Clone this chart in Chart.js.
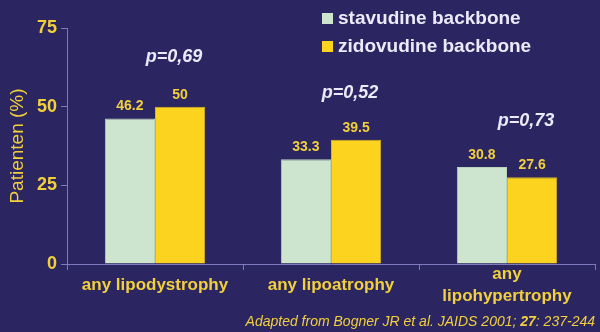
<!DOCTYPE html>
<html>
<head>
<meta charset="utf-8">
<script src="https://cdn.jsdelivr.net/npm/chart.js@4"></script>
<style>
    html, body { margin: 0; padding: 0; background: #2b2561; }
    #wrap { width: 600px; height: 332px; }
</style>
</head>
<body>
<div id="wrap"><canvas id="barChart" width="600" height="332"></canvas></div>
<script>
// chart data
var categories = ['any lipodystrophy', 'any lipoatrophy', ['any', 'lipohypertrophy']];
var stavudineValues = [46.2, 33.3, 30.8];
var zidovudineValues = [50, 39.5, 27.6];
var pValues = ['p=0,69', 'p=0,52', 'p=0,73'];
var pValueLevels = [65.8, 54.3, 45.4];
var yTicks = [0, 25, 50, 75];

var bgColor = '#2b2561';
var yellowText = '#f2d03c';
var whiteText = '#eceaf8';
var axisColor = '#7d7bbd';
var fontFamily = '"Liberation Sans", Arial, sans-serif';

// background, value labels, p values, legend and source line
var decorations = {
    id: 'decorations',
    beforeDraw: function (chart) {
        var ctx = chart.ctx;
        ctx.save();
        ctx.fillStyle = bgColor;
        ctx.fillRect(0, 0, chart.width, chart.height);
        ctx.restore();
    },
    afterDatasetsDraw: function (chart) {
        var ctx = chart.ctx;
        var yScale = chart.scales.y;
        ctx.save();

        // values above bars
        ctx.font = 'bold 14px ' + fontFamily;
        ctx.fillStyle = yellowText;
        ctx.textAlign = 'center';
        ctx.textBaseline = 'bottom';
        chart.data.datasets.forEach(function (ds, i) {
            chart.getDatasetMeta(i).data.forEach(function (bar, j) {
                ctx.fillText(String(ds.data[j]), bar.x, bar.y - 5);
            });
        });

        // p values
        ctx.font = 'italic bold 18px ' + fontFamily;
        ctx.fillStyle = whiteText;
        ctx.textBaseline = 'middle';
        var zidoMeta = chart.getDatasetMeta(1);
        pValues.forEach(function (p, j) {
            ctx.fillText(p, zidoMeta.data[j].x - 6, yScale.getPixelForValue(pValueLevels[j]));
        });

        // legend
        ctx.font = 'bold 19px ' + fontFamily;
        ctx.textAlign = 'left';
        chart.data.datasets.forEach(function (ds, i) {
            var y = 18 + i * 28;
            ctx.fillStyle = ds.backgroundColor;
            ctx.fillRect(322, y - 5, 11, 11);
            ctx.fillStyle = whiteText;
            ctx.fillText(ds.label, 338, y + 1);
        });

        // source
        ctx.font = 'italic 14px ' + fontFamily;
        ctx.fillStyle = yellowText;
        ctx.textAlign = 'right';
        var tail = ': 237-244';
        var x = 595;
        ctx.fillText(tail, x, 322);
        x -= ctx.measureText(tail).width;
        ctx.font = 'italic bold 14px ' + fontFamily;
        ctx.fillText('27', x, 322);
        x -= ctx.measureText('27').width;
        ctx.font = 'italic 14px ' + fontFamily;
        ctx.fillText('Adapted from Bogner JR et al. JAIDS 2001; ', x, 322);

        ctx.restore();
    }
};

var ctx = document.getElementById('barChart').getContext('2d');
new Chart(ctx, {
    type: 'bar',
    data: {
        labels: categories,
        datasets: [{
            label: 'stavudine backbone',
            data: stavudineValues,
            backgroundColor: '#cde5cf',
            borderColor: '#b9d3bd',
            borderWidth: 1
        }, {
            label: 'zidovudine backbone',
            data: zidovudineValues,
            backgroundColor: '#fcd41f',
            borderColor: '#d8b420',
            borderWidth: 1
        }]
    },
    options: {
        responsive: false,
        animation: false,
        layout: {
            padding: { top: 28, right: 5, left: 0, bottom: 0 }
        },
        plugins: {
            legend: { display: false },
            tooltip: { enabled: false }
        },
        datasets: {
            bar: {
                categoryPercentage: 0.57,
                barPercentage: 1.0
            }
        },
        scales: {
            x: {
                grid: {
                    drawOnChartArea: false,
                    color: axisColor,
                    tickLength: 6
                },
                border: { color: axisColor },
                ticks: {
                    color: yellowText,
                    font: { family: fontFamily, size: 17, weight: 'bold', lineHeight: 1.3 },
                    maxRotation: 0,
                    autoSkip: false,
                    crossAlign: 'center',
                    padding: 4
                },
                afterFit: function (scale) { scale.height = 68; }
            },
            y: {
                min: 0,
                max: 75,
                afterBuildTicks: function (scale) {
                    scale.ticks = yTicks.map(function (v) { return { value: v }; });
                },
                grid: {
                    drawOnChartArea: false,
                    color: axisColor,
                    tickLength: 6
                },
                border: { color: axisColor },
                ticks: {
                    color: yellowText,
                    font: { family: fontFamily, size: 18, weight: 'bold' },
                    padding: 4
                },
                title: {
                    display: true,
                    text: 'Patienten (%)',
                    color: yellowText,
                    font: { family: fontFamily, size: 19 },
                    padding: { top: 6, bottom: 6 }
                },
                afterFit: function (scale) { scale.width = 67; }
            }
        }
    },
    plugins: [decorations]
});
</script>
</body>
</html>
